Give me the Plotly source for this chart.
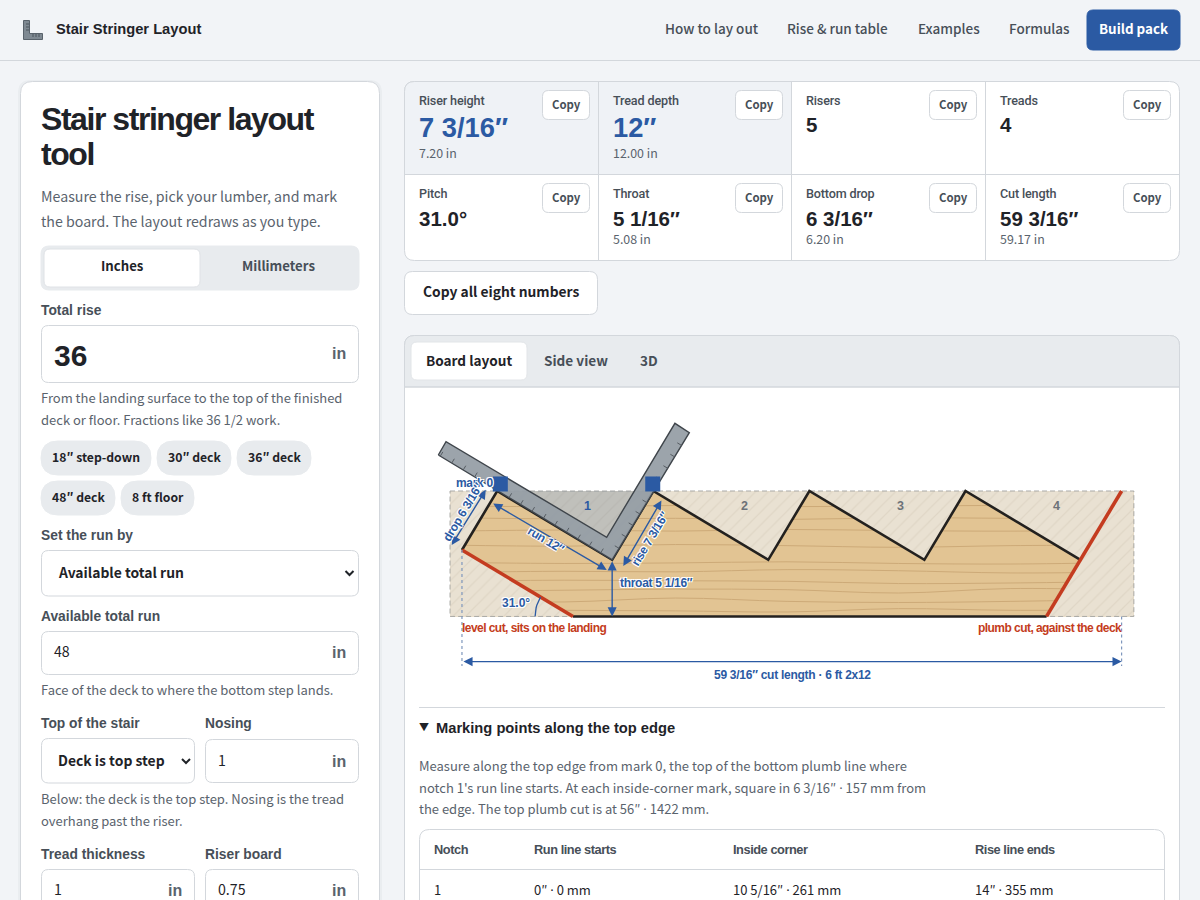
import numpy as np
import plotly.graph_objects as go

# ---- numbers on the page
metric_labels = ["Riser height", "Tread depth", "Risers", "Treads", "Pitch", "Throat", "Bottom drop", "Cut length"]
metric_values = ["7 3/16″", "12″", "5", "4", "31.0°", "5 1/16″", "6 3/16″", "59 3/16″"]
metric_subs = ["7.20 in", "12.00 in", "", "", "", "5.08 in", "6.20 in", "59.17 in"]
nav_labels = ["How to lay out", "Rise & run table", "Examples", "Formulas"]
chip_labels = ["18″ step-down", "30″ deck", "36″ deck", "48″ deck", "8 ft floor"]
tab_labels = ["Board layout", "Side view", "3D"]
table_head = ["Notch", "Run line starts", "Inside corner", "Rise line ends"]
table_row = ["1", "0″ · 0 mm", "10 5/16″ · 261 mm", "14″ · 355 mm"]
notch_numbers = ["1", "2", "3", "4"]

# ---- the board, in inches along the top edge from mark 0 and down from that edge
board_x = [-4.23, 57.1]
board_depth = 11.25
tooth_x = [0, 14, 28, 42, 56]
inside_x = [10.31, 24.31, 38.31, 52.31]
inside_depth = 6.17
plumb_bottom = [-3.16, 5.29]
level_end_x = 6.8
plumb_end_x = 49.27
pitch_deg = 31.0
notch_label_x = [8.14, 22.14, 36.14, 50.14]
gauge_x = [0.28, 13.95]
square_x = [-5.28, 10.31, 17.23, 15.94, 9.82, -4.59]
square_y = [-3.23, 6.17, -5.23, -6.07, 4.15, -4.42]
square_ticks = [1.2, 2.4, 3.6, 4.8, 6.0, 7.2, 8.4, 9.6, 10.8, 12.0, 13.2, 14.4, 15.6, 16.8, 18.0]
grain_x = [-4.23, 6, 16, 26, 36, 46, 57.1]
grain_1 = [1.35, 1.4, 1.3, 1.4, 1.35, 1.3, 1.4]
grain_2 = [2.4, 2.5, 2.45, 2.55, 2.4, 2.45, 2.5]
grain_3 = [3.6, 3.5, 3.6, 3.45, 3.55, 3.6, 3.5]
grain_4 = [4.85, 4.95, 4.8, 4.9, 5.05, 4.9, 4.85]
grain_5 = [6.4, 6.5, 6.45, 6.35, 6.5, 6.55, 6.4]
grain_6 = [7.3, 7.2, 7.25, 7.05, 7.15, 7.35, 7.25]
grain_7 = [8.1, 8.0, 8.05, 8.1, 8.3, 8.25, 8.1]
grain_8 = [9.0, 8.9, 8.8, 8.85, 9.15, 8.75, 8.9]
grain_9 = [9.8, 9.95, 9.6, 9.9, 10.0, 9.9, 9.7]
grain_10 = [10.6, 10.7, 10.75, 10.85, 10.55, 10.7, 10.65]

BG = "#f2f4f7"
LINE = "#d3d7dc"
INK = "#1f2328"
MUTED = "#5a636d"
LABEL = "#474f58"
BLUE = "#2b5aa3"
RED = "#c43c20"
PILL = "#e8ebee"
BODY = "Noto Sans CJK SC"
HEAD = "Liberation Sans"

# board inches to page pixels
PX_PER_IN = 11.15
ORIGIN_X = 497.2
ORIGIN_Y = 491.0

shapes = []
notes = []


def rpath(x0, y0, x1, y1, r):
    return (f"M{x0+r},{y0} L{x1-r},{y0} Q{x1},{y0} {x1},{y0+r} L{x1},{y1-r} Q{x1},{y1} {x1-r},{y1} "
            f"L{x0+r},{y1} Q{x0},{y1} {x0},{y1-r} L{x0},{y0+r} Q{x0},{y0} {x0+r},{y0} Z")


def box(x0, y0, x1, y1, r=6, fill="white", line=LINE, width=1):
    shapes.append(dict(type="path", path=rpath(x0, y0, x1, y1, r), fillcolor=fill,
                       line=dict(color=line, width=width), layer="below", xref="x", yref="y"))


def rule(x0, y0, x1, y1, color=LINE, width=1):
    shapes.append(dict(type="line", x0=x0, y0=y0, x1=x1, y1=y1, line=dict(color=color, width=width),
                       layer="below", xref="x", yref="y"))


def freeform(path, fill="rgba(0,0,0,0)", color=LINE, width=1):
    shapes.append(dict(type="path", path=path, fillcolor=fill, line=dict(color=color, width=width),
                       layer="below", xref="x", yref="y"))


def text(x, y, s, size=14, color=INK, family=BODY, weight=400, anchor="left", angle=0, ref="", halo=None, track=0):
    font = dict(size=size, color=color, family=family, weight=weight)
    if halo:
        font["shadow"] = halo
    if family == BODY:
        y -= 1
        # the CJK face has a very wide middle dot
        s = s.replace("·", '<span style="font-family:Noto Sans">·</span>')
    if track:
        s = f'<span style="letter-spacing:{track}px">{s}</span>'
    notes.append(dict(x=x, y=y, text=s, xref="x" + ref, yref="y" + ref, showarrow=False, xanchor=anchor,
                      yanchor="middle", font=font, textangle=angle, borderpad=0, borderwidth=0))


def dim(x0, y0, x1, y1):
    notes.append(dict(x=x1, y=y1, ax=x0, ay=y0, xref="x2", yref="y2", axref="x2", ayref="y2", text="",
                      showarrow=True, arrowside="end+start", arrowhead=2, arrowsize=1.3, arrowwidth=1.4,
                      arrowcolor=BLUE))


def to_in(px, py):
    return (px - ORIGIN_X) / PX_PER_IN, (py - ORIGIN_Y) / PX_PER_IN


# ---- header
rule(0, 60.5, 1200, 60.5)
freeform("M23.5,20.5 L29.5,20.5 L29.5,33.5 L42.5,33.5 L42.5,39.5 L23.5,39.5 Z", "#7f8992", "#59626b")
for y in [24, 27, 30]:
    rule(26, y, 29, y, "#4d555d")
for x in [33, 36, 39]:
    rule(x, 34, x, 37, "#4d555d")
text(56, 29, "Stair Stringer Layout", 14.7, INK, HEAD, 700)
for cx, s in zip([712, 837.5, 949, 1039.5], nav_labels):
    text(cx, 29, s, 13.5, LABEL, BODY, 500, "center")
box(1087, 10, 1180, 50, 6, BLUE, BLUE)
text(1133.5, 29, "Build pack", 13.4, "white", BODY, 700, "center")

# ---- form card
box(18, 80, 382, 960, 13, "rgba(60,70,80,0.04)", "rgba(0,0,0,0)")
box(20.5, 81.5, 379.5, 960, 12)
text(41, 119, "Stair stringer layout", 32, INK, HEAD, 700, track=-1.45)
text(41, 154, "tool", 32, INK, HEAD, 700, track=-1.45)
text(41, 197, "Measure the rise, pick your lumber, and mark", 14.2, MUTED)
text(41, 222, "the board. The layout redraws as you type.", 14.2, MUTED)
box(41, 246, 359, 290, 8, PILL, PILL)
box(44, 249, 200, 287, 6, "white", "#dfe2e6")
text(122, 266, "Inches", 13.2, INK, BODY, 700, "center")
text(278.5, 266, "Millimeters", 13.2, LABEL, BODY, 700, "center")

for y, s in [(310, "Total rise"), (535, "Set the run by"), (616, "Available total run"), (723, "Top of the stair"),
             (854, "Tread thickness")]:
    text(41, y, s, 13.8, LABEL, HEAD, 700)
text(205, 723, "Nosing", 13.8, LABEL, HEAD, 700)
text(205, 854, "Riser board", 13.8, LABEL, HEAD, 700)

box(41.5, 325.5, 358.5, 382.5, 7)
text(54, 355, "36", 30, INK, HEAD, 700)
text(346, 353, "in", 16, MUTED, HEAD, 700, "right")
text(41, 398, "From the landing surface to the top of the finished", 13, MUTED)
text(41, 420, "deck or floor. Fractions like 36 1/2 work.", 13, MUTED)
chip_rects = [(41, 441, 151, 475), (157, 441, 231, 475), (237, 441, 311, 475), (41, 481, 115, 515), (121, 481, 194, 515)]
for (x0, y0, x1, y1), s in zip(chip_rects, chip_labels):
    box(x0, y0, x1, y1, 17, PILL, PILL)
    text((x0 + x1) / 2, (y0 + y1) / 2 - 0.5, s, 12.2, INK, BODY, 700, "center")

box(41.5, 550.5, 358.5, 596, 7)
text(58, 573, "Available total run", 13.9, INK, BODY, 600)
box(41.5, 631.5, 358.5, 674.5, 7)
text(54, 652, "48", 14.2, INK)
text(346, 652, "in", 16, MUTED, HEAD, 700, "right")
text(41, 690, "Face of the deck to where the bottom step lands.", 13, MUTED)
box(41.5, 738.5, 194.5, 783, 7)
text(58, 761, "Deck is top step", 13.9, INK, BODY, 600)
box(205.5, 739.5, 358.5, 782.5, 7)
text(218, 761, "1", 14.2, INK)
text(346, 761, "in", 16, MUTED, HEAD, 700, "right")
text(41, 799, "Below: the deck is the top step. Nosing is the tread", 13, MUTED)
text(41, 821, "overhang past the riser.", 13, MUTED)
box(41.5, 869.5, 194.5, 930, 7)
box(205.5, 869.5, 358.5, 930, 7)
text(54, 890, "1", 14.2, INK)
text(182, 890, "in", 16, MUTED, HEAD, 700, "right")
text(218, 890, "0.75", 14.2, INK)
text(346, 890, "in", 16, MUTED, HEAD, 700, "right")
for cx, cy in [(349.5, 573), (186, 761)]:
    freeform(f"M{cx-4},{cy-2} L{cx},{cy+2} L{cx+4},{cy-2}", color=INK, width=2)

# ---- metric card
box(404.5, 81.5, 1179.5, 260.5, 10)
freeform("M404.5,174.5 L404.5,91.5 Q404.5,81.5 414.5,81.5 L791.5,81.5 L791.5,174.5 Z", "#eff2f6")
rule(404.5, 174.5, 1179.5, 174.5)
for x in [598.5, 791.5, 985.5]:
    rule(x, 81.5, x, 260.5)
col_x = [419, 613, 806, 1000]
copy_x = [542, 735, 929, 1123]
for i, (lab, val, sub) in enumerate(zip(metric_labels, metric_values, metric_subs)):
    row, col = i // 4, i % 4
    x = col_x[col]
    big = i < 2
    text(x, 100 if row == 0 else 193, lab, 12.6, LABEL, "Roboto", 500, track=-0.15)
    vy = 127 if big else (124 if row == 0 else 218)
    text(x, vy, val, 27.3 if big else 20.5, BLUE if big else INK, HEAD, 700)
    if sub:
        text(x, 154 if row == 0 else 240, sub, 12.4, MUTED)
    y0 = 90 if row == 0 else 183
    box(copy_x[col] + 0.5, y0 + 0.5, copy_x[col] + 47.5, y0 + 29.5, 6)
    text(copy_x[col] + 24, y0 + 14.5, "Copy", 11.4, LABEL, BODY, 700, "center")

box(404.5, 271.5, 597.5, 314.5, 8)
text(501, 292, "Copy all eight numbers", 13.8, INK, BODY, 700, "center")

# ---- layout card
box(404.5, 335.5, 1179.5, 960, 10)
freeform("M404.5,387 L404.5,345.5 Q404.5,335.5 414.5,335.5 L1169.5,335.5 Q1179.5,335.5 1179.5,345.5 L1179.5,387 Z", PILL)
rule(404.5, 387, 1179.5, 387)
box(411, 342, 527, 380, 6, "white", "#e2e5e8")
for cx, s, c in zip([469, 575.5, 649], tab_labels, [INK, LABEL, LABEL]):
    text(cx, 361, s, 13.6, c, BODY, 700, "center")

rule(419, 707.5, 1165, 707.5)
text(419, 727, "▼", 10, INK)
text(436, 728, "Marking points along the top edge", 14.7, INK, HEAD, 700)
text(419, 766, "Measure along the top edge from mark 0, the top of the bottom plumb line where", 13, MUTED)
text(419, 788, "notch 1's run line starts. At each inside-corner mark, square in 6 3/16″ · 157 mm from", 13, MUTED)
text(419, 809, "the edge. The top plumb cut is at 56″ · 1422 mm.", 13, MUTED)
box(419.5, 829.5, 1164.5, 960, 10)
rule(419.5, 869.5, 1164.5, 869.5)
for x, h, v in zip([434, 534, 733, 975], table_head, table_row):
    text(x, 849, h, 12.8, LABEL, HEAD, 700, track=-0.45)
    text(x, 890, v, 13, INK)

# ---- board drawing
fig = go.Figure()


def board_line(x, y, color, width, shape="linear", dash="solid"):
    fig.add_trace(go.Scatter(x=x, y=y, mode="lines", xaxis="x2", yaxis="y2", hoverinfo="skip",
                             line=dict(color=color, width=width, shape=shape, dash=dash)))


def board_fill(x, y, fill, pattern=None):
    fig.add_trace(go.Scatter(x=x, y=y, mode="lines", xaxis="x2", yaxis="y2", hoverinfo="skip", fill="toself",
                             fillcolor=fill, fillpattern=pattern, line=dict(width=0)))


board_fill([board_x[0], board_x[1], board_x[1], board_x[0]], [0, 0, board_depth, board_depth], "#e2c493")
for g in [grain_1, grain_2, grain_3, grain_4, grain_5, grain_6, grain_7, grain_8, grain_9, grain_10]:
    board_line(grain_x, g, "#cdaa78", 1, "spline")

# waste: everything the stringer leaves behind, laid over the wood
waste_x = [board_x[0], 0, plumb_bottom[0], level_end_x, board_x[0], None]
waste_y = [0, 0, plumb_bottom[1], board_depth, board_depth, None]
for a, m, b in zip(tooth_x[:-1], inside_x, tooth_x[1:]):
    waste_x += [a, m, b, None]
    waste_y += [0, inside_depth, 0, None]
waste_x += [tooth_x[-1], board_x[1], board_x[1], plumb_end_x]
waste_y += [0, 0, board_depth, board_depth]
board_fill(waste_x, waste_y, "#e9e1d2", dict(shape="/", fgcolor="#d6ccb9", bgcolor="#e9e1d2", size=9, solidity=0.14))
board_line([board_x[0], board_x[1], board_x[1], board_x[0], board_x[0]], [0, 0, board_depth, board_depth, 0],
           "#a9a9a6", 1, dash="5px,3px")

board_fill([tooth_x[0], inside_x[0], tooth_x[1]], [0, inside_depth, 0], "rgba(118,133,148,0.36)")

edge_x = [plumb_bottom[0]]
edge_y = [plumb_bottom[1]]
for a, m in zip(tooth_x, inside_x):
    edge_x += [a, m]
    edge_y += [0, inside_depth]
board_line(edge_x, edge_y, "#23211f", 2.6)
board_line([level_end_x, plumb_end_x], [board_depth, board_depth], "#23211f", 2.6)
board_line([plumb_bottom[0], level_end_x], [plumb_bottom[1], board_depth], RED, 3.6)
board_line([tooth_x[-1], plumb_end_x], [0, board_depth], RED, 3.6)

# framing square and its ruler marks
fig.add_trace(go.Scatter(x=square_x + square_x[:1], y=square_y + square_y[:1], mode="lines", xaxis="x2", yaxis="y2",
                         hoverinfo="skip", fill="toself", fillcolor="rgba(150,158,166,0.94)",
                         line=dict(color="#3f454b", width=1.4)))
heel = np.array([square_x[1], square_y[1]])
long_dir = np.array([square_x[0], square_y[0]]) - heel
long_dir /= np.hypot(*long_dir)
short_dir = np.array([square_x[2], square_y[2]]) - heel
short_dir /= np.hypot(*short_dir)
tick_x, tick_y = [], []
for d in square_ticks:
    p = heel + long_dir * d
    q = p + short_dir * 0.45
    tick_x += [p[0], q[0], None]
    tick_y += [p[1], q[1], None]
    if d <= 12.5:
        p = heel + short_dir * d
        q = p + long_dir * 0.45
        tick_x += [p[0], q[0], None]
        tick_y += [p[1], q[1], None]
board_line(tick_x, tick_y, "#565c62", 1)

fig.add_trace(go.Scatter(x=gauge_x, y=[-0.63, -0.63], mode="markers", xaxis="x2", yaxis="y2", hoverinfo="skip",
                         marker=dict(symbol="square", size=15, color=BLUE, line=dict(width=0))))

# pitch arc around the foot of the level cut
arc = np.radians(np.linspace(0, pitch_deg, 8))
board_line(list(level_end_x - 3.4 * np.cos(arc)), list(board_depth - 3.4 * np.sin(arc)), BLUE, 1.3)

# witness lines
board_line([plumb_bottom[0], plumb_bottom[0]], [plumb_bottom[1], 15.7], "#7f97bd", 1.2, dash="3px,3px")
board_line([tooth_x[-1], tooth_x[-1]], [board_depth, 15.7], "#7f97bd", 1.2, dash="3px,3px")

dim(*to_in(491.7, 502.7), *to_in(606.7, 570))
dim(*to_in(662.3, 499), *to_in(623.3, 566))
dim(*to_in(486.7, 488.3), *to_in(451.7, 545))
dim(inside_x[0], inside_depth, inside_x[0], board_depth)
dim(plumb_bottom[0], 15.3, tooth_x[-1], 15.3)

HALO = "1px 1px 0 #fff, -1px -1px 0 #fff, 1px -1px 0 #fff, -1px 1px 0 #fff"
for x, s, c in zip(notch_label_x, notch_numbers, [BLUE, "#6d7278", "#6d7278", "#6d7278"]):
    text(x, 1.35, s, 12.5, c, HEAD, 700, "center", ref="2")
text(*to_in(475, 482.5), "mark 0", 12, BLUE, HEAD, 700, "center", ref="2", halo=HALO, track=-0.3)
text(*to_in(546, 540), "run 12″", 12, BLUE, HEAD, 700, "center", 31, ref="2", halo=HALO, track=-0.3)
text(*to_in(650, 539), "rise 7 3/16″", 12, BLUE, HEAD, 700, "center", -59, ref="2", halo=HALO, track=-0.3)
text(*to_in(463, 512), "drop 6 3/16″", 12, BLUE, HEAD, 700, "center", -59, ref="2", halo=HALO, track=-0.3)
text(*to_in(656, 583), "throat 5 1/16″", 12, BLUE, HEAD, 700, "center", ref="2", halo=HALO, track=-0.3)
text(*to_in(516, 602.5), "31.0°", 12, BLUE, HEAD, 700, "center", ref="2", halo=HALO)
text(*to_in(462, 628), "level cut, sits on the landing", 12, RED, HEAD, 700, ref="2", track=-0.55)
text(*to_in(1122, 628), "plumb cut, against the deck", 12, RED, HEAD, 700, "right", ref="2", track=-0.55)
text(*to_in(792.5, 675), "59 3/16″ cut length · 6 ft 2x12", 12, BLUE, HEAD, 700, "center", ref="2", track=-0.27)

fig.update_layout(
    width=1200,
    height=900,
    margin=dict(l=0, r=0, t=0, b=0),
    paper_bgcolor=BG,
    plot_bgcolor=BG,
    showlegend=False,
    shapes=shapes,
    annotations=notes,
    xaxis=dict(range=[0, 1200], visible=False, fixedrange=True),
    yaxis=dict(range=[900, 0], visible=False, fixedrange=True),
    xaxis2=dict(range=[-ORIGIN_X / PX_PER_IN, (1200 - ORIGIN_X) / PX_PER_IN], visible=False, fixedrange=True,
                overlaying="x", anchor="y2"),
    yaxis2=dict(range=[(900 - ORIGIN_Y) / PX_PER_IN, -ORIGIN_Y / PX_PER_IN], visible=False, fixedrange=True,
                overlaying="y", anchor="x2"),
)

fig.write_html("out.html", config=dict(displayModeBar=False),
               post_script="document.body.style.margin='0';document.body.style.overflow='hidden';")
